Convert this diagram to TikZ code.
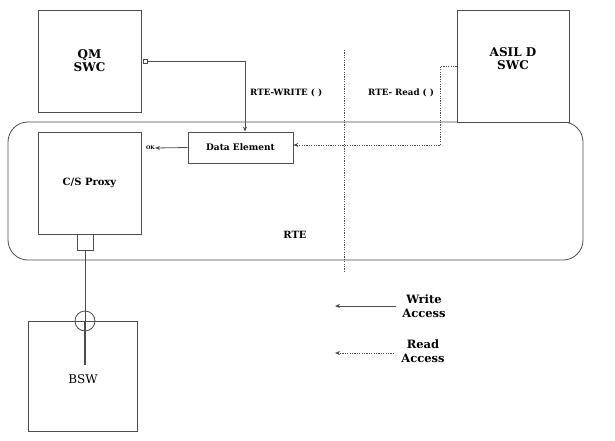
\documentclass[tikz,border=0pt]{standalone}
\usepackage{fontspec}
\setmainfont{DejaVu Serif}
\usetikzlibrary{arrows.meta}
\begin{document}
\begin{tikzpicture}[x=1pt,y=-1pt,
  ln/.style={draw=black!70, line width=0.8pt},
  box/.style={ln, rectangle, inner sep=0pt, align=center, font=\bfseries},
  wr/.style={ln, -{Stealth[length=5pt,width=4pt]}},
  rd/.style={ln, line width=0.7pt, dash pattern=on 1.2pt off 1.2pt, -{Stealth[length=5pt,width=4pt]}},
  lbl/.style={font=\bfseries\fontsize{8.7}{10}\selectfont, inner sep=0pt}]
\useasboundingbox (0,0) rectangle (615,441);
% RTE container
\node[ln, rounded corners=20pt, minimum width=575pt, minimum height=138pt, inner sep=0pt] (rte) at (295.5,191) {};
\node[lbl, font=\bfseries\fontsize{10}{12}\selectfont] (rtelbl) at (295,235) {RTE};
% SWCs
\node[box, minimum width=103pt, minimum height=102pt, font=\bfseries\fontsize{12}{13}\selectfont] (qm) at (89.5,61) {QM\\SWC};
\node[box, fill=white, minimum width=112pt, minimum height=112pt, font=\bfseries\fontsize{12}{13}\selectfont, text depth=14pt] (asil) at (513,66) {ASIL D\\SWC};
\node[box, minimum width=4pt, minimum height=4pt] (qmport) at (145,61) {};
% Data element and proxy
\node[box, minimum width=105pt, minimum height=31pt, font=\bfseries\fontsize{9}{10}\selectfont] (de) at (240.5,147.5) {Data Element};
\node[box, minimum width=103pt, minimum height=102pt] (proxy) at (89.5,183) {};
\node[lbl, font=\bfseries\fontsize{10}{12}\selectfont] (proxylbl) at (89.5,183) {C/S Proxy};
\node[box, minimum width=16pt, minimum height=16pt] (port2) at (85,242) {};
\node[lbl, font=\bfseries\fontsize{5}{6}\selectfont, anchor=east] (ok) at (155,148) {OK};
% BSW
\node[box, minimum width=109pt, minimum height=110pt] (bsw) at (82.5,376) {};
\node[inner sep=0pt, font=\fontsize{12}{14}\selectfont] (bswlbl) at (83,379) {BSW};
\node[ln, circle, minimum size=20pt, inner sep=0pt] (circ) at (85,321) {};
\coordinate (bswend) at (85,365);
% connectors
\draw[wr] (qmport.east) -| ([xshift=4.5pt]de.north);
\draw[rd] (asil.west) -- ++(-16,0) |- ([yshift=2.5pt]de.east);
\draw[wr] (de.west) -- (ok.east);
\draw[ln] (port2.south) -- (circ.center);
\draw[ln, line width=1.5pt] (circ.center) -- (bswend);
% divider
\coordinate (dv1) at (344,50);
\coordinate (dv2) at (344,271);
\draw[ln, line width=0.6pt, dash pattern=on 1.2pt off 1.2pt] (dv1) -- (dv2);
% labels
\node[lbl, anchor=west] (wlbl) at (250,93) {RTE-WRITE ( )};
\node[lbl, anchor=west] (rlbl) at (368,93) {RTE- Read ( )};
% legend
\node[inner sep=0pt, align=center, font=\bfseries\fontsize{11.5}{13.5}\selectfont] (lw) at (424,306) {Write\\Access};
\node[inner sep=0pt, align=center, font=\bfseries\fontsize{11.5}{13.5}\selectfont] (lr) at (423,351) {Read\\Access};
\coordinate (lw1) at (396,306);
\coordinate (lw2) at (335,306);
\coordinate (lr1) at (394,353);
\coordinate (lr2) at (335,353);
\draw[wr] (lw1) -- (lw2);
\draw[rd] (lr1) -- (lr2);
\end{tikzpicture}
\end{document}
